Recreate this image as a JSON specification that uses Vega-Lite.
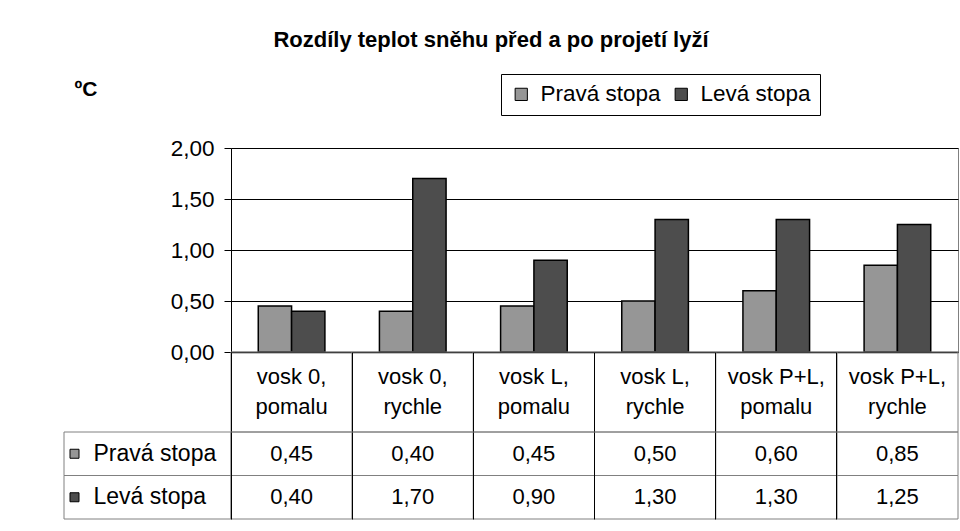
{
  "$schema": "https://vega.github.io/schema/vega-lite/v6.json",
  "padding": {"left": 63, "top": 28, "right": 3, "bottom": 10},
  "autosize": {"type": "pad"},
  "background": "white",
  "config": {
    "locale": {"number": {"decimal": ",", "thousands": " ", "grouping": [3], "currency": ["", " Kč"]}},
    "font": "Liberation Sans",
    "view": {"stroke": null},
    "text": {"font": "Liberation Sans", "color": "black"}
  },
  "title": {
    "text": "Rozdíly teplot sněhu před a po projetí lyží",
    "font": "Liberation Sans",
    "fontSize": 22,
    "fontWeight": "bold",
    "color": "black",
    "anchor": "middle",
    "offset": 22,
    "dx": -20
  },
  "datasets": {
    "vals": [
      {"cat": "vosk 0,\npomalu", "series": "Pravá stopa", "value": 0.45},
      {"cat": "vosk 0,\npomalu", "series": "Levá stopa", "value": 0.40},
      {"cat": "vosk 0,\nrychle", "series": "Pravá stopa", "value": 0.40},
      {"cat": "vosk 0,\nrychle", "series": "Levá stopa", "value": 1.70},
      {"cat": "vosk L,\npomalu", "series": "Pravá stopa", "value": 0.45},
      {"cat": "vosk L,\npomalu", "series": "Levá stopa", "value": 0.90},
      {"cat": "vosk L,\nrychle", "series": "Pravá stopa", "value": 0.50},
      {"cat": "vosk L,\nrychle", "series": "Levá stopa", "value": 1.30},
      {"cat": "vosk P+L,\npomalu", "series": "Pravá stopa", "value": 0.60},
      {"cat": "vosk P+L,\npomalu", "series": "Levá stopa", "value": 1.30},
      {"cat": "vosk P+L,\nrychle", "series": "Pravá stopa", "value": 0.85},
      {"cat": "vosk P+L,\nrychle", "series": "Levá stopa", "value": 1.25}
    ]
  },
  "columns": 2,
  "bounds": "flush",
  "spacing": 0,
  "concat": [
    {
      "width": 167, "height": 204,
      "data": {"values": [{}]},
      "mark": {"type": "text", "text": ""}
    },
    {
      "width": 727, "height": 204,
      "data": {"name": "vals"},
      "view": {"stroke": "#808080"},
      "mark": {"type": "bar", "stroke": "black", "strokeWidth": 1.5},
      "encoding": {
        "x": {"field": "cat", "type": "nominal", "sort": null,
          "scale": {"paddingInner": 0.45, "paddingOuter": 0.225},
          "axis": {"labels": false, "ticks": false, "title": null, "domainColor": "black", "domainWidth": 1.5}},
        "xOffset": {"field": "series", "type": "nominal", "sort": null, "scale": {"paddingInner": 0, "paddingOuter": 0}},
        "y": {"field": "value", "type": "quantitative",
          "scale": {"domain": [0, 2]},
          "axis": {"values": [0, 0.5, 1, 1.5, 2], "format": ".2f", "labelFontSize": 22.5, "labelColor": "black",
            "labelPadding": 10, "tickSize": 7, "tickColor": "black", "domainColor": "black",
            "gridColor": "black", "gridOpacity": 1,
            "title": "ºC", "titleAngle": 0, "titleX": -157, "titleY": -53, "titleAlign": "left",
            "titleBaseline": "alphabetic", "titleFontSize": 21, "titleFontWeight": "bold", "titleColor": "black"}},
        "color": {"field": "series", "type": "nominal", "sort": null,
          "scale": {"domain": ["Pravá stopa", "Levá stopa"], "range": ["#969696", "#4d4d4d"]},
          "legend": {"orient": "none", "legendX": 437, "legendY": -74, "direction": "horizontal", "columns": 2,
            "title": null, "symbolType": "square", "symbolSize": 150, "symbolStrokeColor": "black",
            "symbolStrokeWidth": 1, "labelFontSize": 22.5, "labelColor": "black", "labelOffset": 8,
            "columnPadding": 9, "padding": 9, "strokeColor": "black", "fillColor": "white"}}
      }
    },
    {
      "width": 167, "height": 80,
      "data": {"values": [{}]},
      "mark": {"type": "text", "text": ""}
    },
    {
      "width": 727, "height": 80,
      "data": {"name": "vals"},
      "transform": [{"filter": "datum.series === 'Pravá stopa'"}],
      "encoding": {
        "x": {"field": "cat", "type": "nominal", "sort": null, "scale": {"padding": 0},
          "axis": {"grid": true, "gridColor": "black", "gridOpacity": 1, "bandPosition": 0, "labels": false,
            "ticks": false, "domain": false, "title": null, "zindex": 1}}
      },
      "layer": [
        {"mark": {"type": "rect", "fillOpacity": 0, "stroke": "#808080", "strokeWidth": 1}},
        {"mark": {"type": "text", "fontSize": 22, "lineBreak": "\n", "lineHeight": 30, "baseline": "middle", "dy": -15},
          "encoding": {"text": {"field": "cat"}}}
      ]
    },
    {
      "width": 167, "height": 87,
      "data": {"name": "vals"},
      "transform": [{"filter": "datum.cat === 'vosk 0,\\npomalu'"}],
      "encoding": {
        "y": {"field": "series", "type": "nominal", "sort": null, "scale": {"padding": 0}, "axis": null}
      },
      "layer": [
        {"mark": {"type": "rect", "fillOpacity": 0, "stroke": "#808080", "strokeWidth": 1}},
        {"mark": {"type": "point", "shape": "square", "size": 81, "filled": true, "opacity": 1,
            "stroke": "black", "strokeWidth": 1, "xOffset": -73},
          "encoding": {"color": {"field": "series", "type": "nominal", "sort": null,
            "scale": {"domain": ["Pravá stopa", "Levá stopa"], "range": ["#969696", "#4d4d4d"]}}}},
        {"mark": {"type": "text", "fontSize": 23, "align": "left", "baseline": "middle", "dx": -54},
          "encoding": {"text": {"field": "series"}}}
      ]
    },
    {
      "width": 727, "height": 87,
      "data": {"name": "vals"},
      "encoding": {
        "x": {"field": "cat", "type": "nominal", "sort": null, "scale": {"padding": 0},
          "axis": {"grid": true, "gridColor": "black", "gridOpacity": 1, "bandPosition": 0, "labels": false,
            "ticks": false, "domain": false, "title": null, "zindex": 1}},
        "y": {"field": "series", "type": "nominal", "sort": null, "scale": {"padding": 0}, "axis": null}
      },
      "layer": [
        {"mark": {"type": "rect", "fillOpacity": 0, "stroke": "#808080", "strokeWidth": 1}},
        {"mark": {"type": "text", "fontSize": 22, "baseline": "middle"},
          "encoding": {"text": {"field": "value", "type": "quantitative", "format": ".2f"}}}
      ]
    }
  ]
}
